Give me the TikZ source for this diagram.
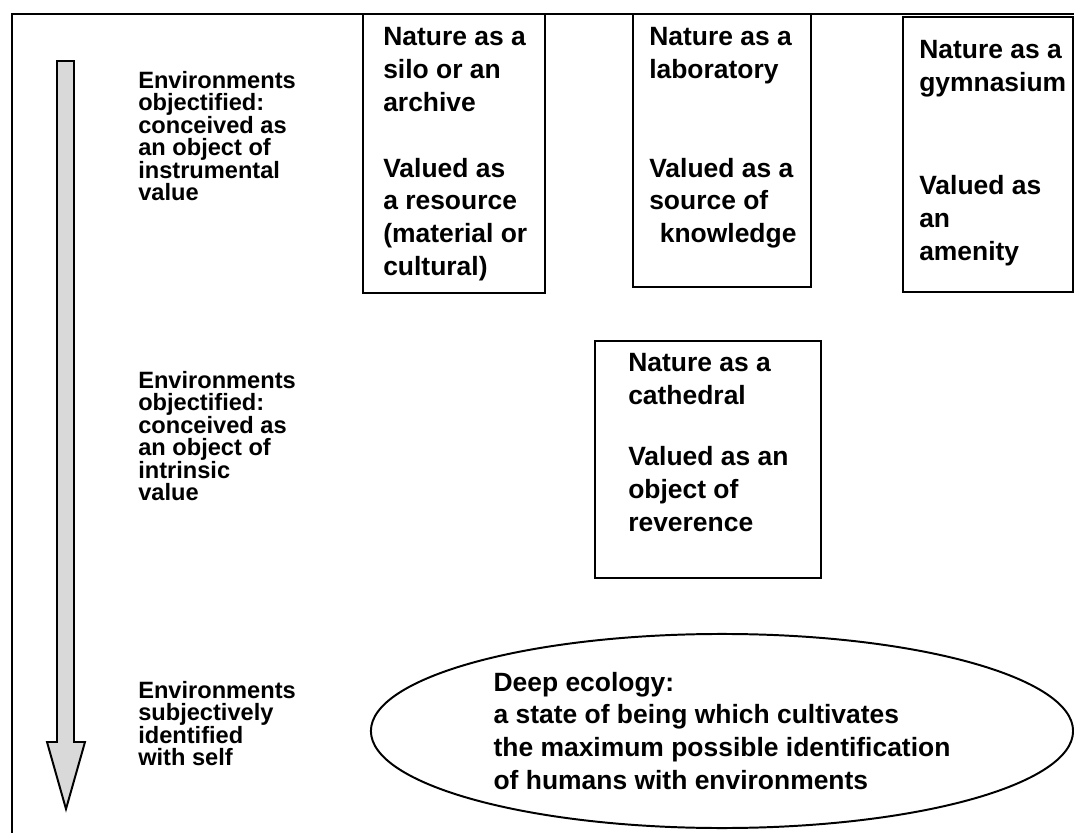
\documentclass[tikz,border=0pt]{standalone}
\usepackage{fontspec}
\setmainfont{Liberation Sans}
\usetikzlibrary{shapes.geometric}

\newcommand{\boxfont}{\fontsize{18.8}{23.4}\selectfont\bfseries}
\newcommand{\sidefont}{\fontsize{16.8}{16}\selectfont\bfseries}

\begin{document}
\begin{tikzpicture}[x=0.025cm,y=-0.025cm,
  frame/.style={line width=1.4pt},
  side/.style={anchor=north west,align=left,inner sep=0pt,font=\sidefont},
  boxtext/.style={anchor=north west,align=left,inner sep=0pt,font=\boxfont}]

\useasboundingbox (0,0) rectangle (1074,833);

% outer frame and the downward arrow
\draw[frame] (12,833) |- (1074,14);
\draw[frame,fill=gray!30] (57,61) -- (74,61) -- (74,742) -- (85,742)
  -- (66,809) -- (47,742) -- (57,742) -- cycle;

\node[side] (instr) at (138,71) {Environments\\objectified:\\conceived as\\an object of\\instrumental\\value};
\node[side] (intr) at (138,371) {Environments\\objectified:\\conceived as\\an object of\\intrinsic\\value};
\node[side] (subj) at (138,681) {Environments\\subjectively\\identified\\with self};

% the four boxes
\draw[frame] (363,14) rectangle (545,293);
\draw[frame] (633,14) rectangle (811,287);
\draw[frame] (903,17) rectangle (1073,292);
\draw[frame] (595,341) rectangle (821,578);

\node[boxtext] (silo) at (383,27) {Nature as a\\silo or an\\archive\\[23.4pt]Valued as\\a resource\\(material or\\cultural)};
\node[boxtext] (lab) at (649,27) {Nature as a\\laboratory\\[46.8pt]Valued as a\\source of\\\hspace{0.4em}knowledge};
\node[boxtext] (gym) at (919,40) {Nature as a\\gymnasium\\[50pt]Valued as\\an\\amenity};
\node[boxtext] (cath) at (628,353) {Nature as a\\cathedral\\[20pt]Valued as an\\object of\\reverence};

\node[draw,frame,ellipse,inner sep=0pt,minimum width=17.55cm,minimum height=4.85cm,
  align=left,font=\boxfont] (deep) at (722,731)
  {Deep ecology:\\a state of being which cultivates\\the maximum possible identification\\of humans with environments};

\end{tikzpicture}
\end{document}
